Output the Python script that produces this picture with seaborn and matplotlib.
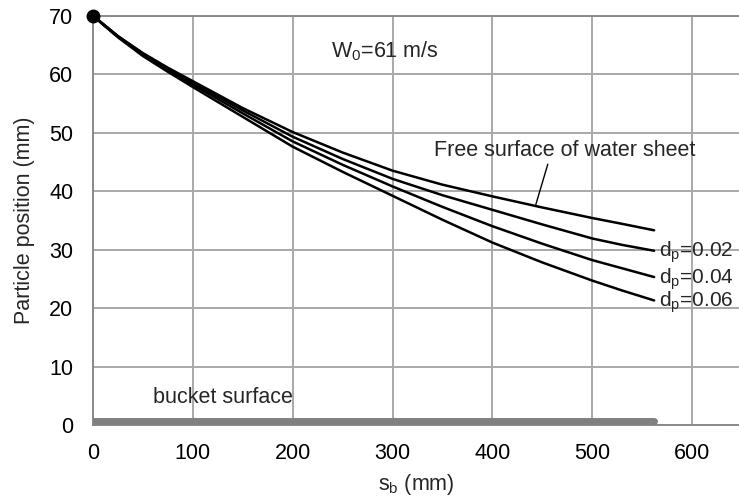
import numpy as np
import pandas as pd
import matplotlib
matplotlib.use("Agg")
import matplotlib.pyplot as plt
import seaborn as sns

# Distance along the bucket (mm)
s_b = [0, 10, 25, 50, 75, 100, 150, 200, 250, 300, 350, 400, 450, 500, 530, 562]

# Particle position above the bucket surface (mm)
free_surface = [70, 68.6, 66.5, 63.6, 61.1, 58.8, 54.2, 50.1, 46.6, 43.5, 41.1, 39.1, 37.2, 35.4, 34.4, 33.3]
dp_002 = [70, 68.6, 66.5, 63.5, 60.9, 58.5, 53.8, 49.3, 45.5, 42.1, 39.3, 36.8, 34.3, 31.9, 30.8, 29.8]
dp_004 = [70, 68.5, 66.4, 63.3, 60.7, 58.2, 53.3, 48.5, 44.5, 40.8, 37.3, 34.0, 31.0, 28.2, 26.8, 25.3]
dp_006 = [70, 68.5, 66.3, 63.1, 60.4, 57.8, 52.7, 47.6, 43.3, 39.2, 35.1, 31.2, 27.8, 24.7, 23.0, 21.3]

series_names = ["free", "dp=0.02", "dp=0.04", "dp=0.06"]
series_values = [free_surface, dp_002, dp_004, dp_006]
dp_labels = ["0.02", "0.04", "0.06"]

bucket_x = [0, 562]
bucket_y = [0.6, 0.6]

x_ticks = [0, 100, 200, 300, 400, 500, 600]
y_ticks = [0, 10, 20, 30, 40, 50, 60, 70]

frames = []
for name, vals in zip(series_names, series_values):
    frames.append(pd.DataFrame({"s_b": s_b, "pos": vals, "series": name}))
df = pd.concat(frames, ignore_index=True)

sns.set_theme(style="whitegrid")
plt.rcParams["font.family"] = ["Liberation Sans", "DejaVu Sans"]
plt.rcParams["mathtext.fontset"] = "custom"
plt.rcParams["mathtext.rm"] = "Liberation Sans"
plt.rcParams["mathtext.it"] = "Liberation Sans"

FS = 15.5
GRID = "#a8a8a8"
AXIS = "#8a8a8a"

fig = plt.figure(figsize=(7.39, 5.0), dpi=100)
ax = fig.add_axes([93 / 739, 75 / 500, 646 / 739, 409.3 / 500])

# Bucket surface
ax.plot(bucket_x, bucket_y, color="#808080", lw=5.0, solid_capstyle="round", zorder=3)

sns.lineplot(data=df, x="s_b", y="pos", hue="series", palette=["black"] * 4,
             sort=False, estimator=None, legend=False, lw=1.8, ax=ax, zorder=4)

# Injection point
ax.plot([0], [70], "o", color="black", ms=9, zorder=6, clip_on=False)

ax.set_xlim(0, 647)
ax.set_ylim(0, 70)
ax.set_xticks(x_ticks)
ax.set_yticks(y_ticks)
ax.grid(True, color=GRID, lw=1.4)
ax.set_axisbelow(True)
for side in ["left", "bottom", "top"]:
    ax.spines[side].set_visible(True)
    ax.spines[side].set_color(AXIS)
    ax.spines[side].set_linewidth(1.4)
ax.spines["right"].set_visible(False)

ax.tick_params(axis="both", which="major", labelsize=FS, colors=AXIS,
               labelcolor="black", length=5.8, width=1.2, direction="out")
ax.tick_params(axis="y", pad=8.5)
ax.tick_params(axis="x", pad=7)
ax.set_xlabel(r"s$_{\mathrm{b}}$ (mm)", fontsize=FS, labelpad=6)
ax.set_ylabel("Particle position (mm)", fontsize=FS, labelpad=10)

ax.text(238, 64, r"W$_{0}$=61 m/s", fontsize=FS, va="center", ha="left")
ax.text(342, 46.9, "Free surface of water sheet", fontsize=FS, va="center", ha="left")
ax.plot([455.5, 443.5], [44.6, 37.7], color="black", lw=1.0, zorder=5)
ax.text(60.5, 4.7, "bucket surface", fontsize=FS, va="center", ha="left")

for lab, vals in zip(dp_labels, series_values[1:]):
    ax.text(567, vals[-1] - 0.3, r"d$_{\mathrm{p}}$=" + lab, fontsize=15,
            va="center", ha="left", clip_on=False)

fig.savefig("out.png", dpi=100)
